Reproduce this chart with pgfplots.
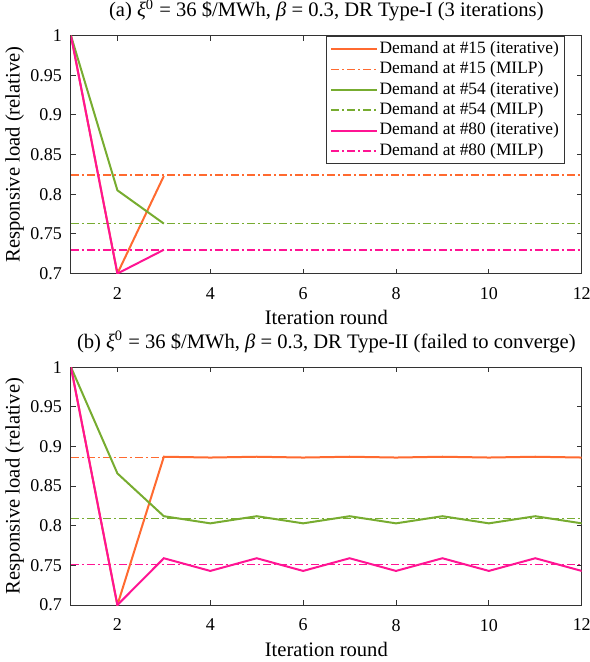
\documentclass[border=0pt]{standalone}
\usepackage{fontspec}
\setmainfont{Liberation Serif}
\usepackage{pgfplots}
\pgfplotsset{compat=1.18}

\definecolor{cOrange}{RGB}{255,106,48}
\definecolor{cGreen}{RGB}{119,172,48}
\definecolor{cPink}{RGB}{255,20,147}

\newcommand{\lab}{\rmfamily\fontsize{10.3}{12}\selectfont}
\newcommand{\tck}{\rmfamily\fontsize{9}{10}\selectfont}

\pgfplotsset{
  dr/.style={
    width=255.5pt, height=119pt, scale only axis,
    xmin=1, xmax=12, ymin=0.7, ymax=1,
    xtick={2,4,...,12},
    ytick={0.7,0.75,...,1.0001},
    yticklabel style={/pgf/number format/fixed,/pgf/number format/precision=2},
    /pgf/number format/assume math mode=true,
    tick align=inside,
    major tick length=2.5pt,
    axis line style={black!80, line width=0.5pt},
    tick style={black!80, line width=0.5pt},
    tick label style={font=\tck},
    xticklabel style={yshift=-3.5pt},
    yticklabel style={xshift=-1pt},
    title style={font=\lab, at={(axis description cs:0.5,1)}, anchor=base, yshift=3.5pt},
    xlabel={Iteration round},
    ylabel={Responsive load (relative)},
    xlabel style={font=\lab, at={(axis description cs:0.5,-0.185)}, anchor=center},
    ylabel style={font=\lab, at={(axis description cs:-0.11,0.5)}, anchor=center},
  },
  it/.style={line width=1pt, no marks},
  milp/.style={line width=0.75pt, no marks, dash pattern=on 4pt off 1.5pt on 1pt off 1.5pt},
}

\begin{document}
\begin{tikzpicture}
% page frame: 590 x 662 px at 2 px per pt, origin at the lower left of panel (b)
\useasboundingbox (-35.5pt,-28.5pt) rectangle (259.5pt,302.65pt);

\begin{axis}[dr, at={(0,165.8pt)}, anchor=south west,
  title={(a) {\itshape ξ}\textsuperscript{0} = 36 \$/MWh, {\itshape β} = 0.3, DR Type-I (3 iterations)},
  legend style={at={(0.967,1)}, anchor=north east, draw=black!80, line width=0.5pt,
    font=\rmfamily\fontsize{8.7}{10}\selectfont, inner xsep=2pt, inner ysep=1.5pt,
    row sep=0.3pt,
    nodes={inner sep=0.8pt, text height=6.3pt, text depth=2pt}},
  legend cell align=left,
  legend image code/.code={\draw[#1] (0pt,0pt) -- (23pt,0pt);},
]
\addplot[it, cOrange] coordinates {(1,1) (2,0.700) (3,0.823)};
\addlegendentry{Demand at \#15 (iterative)}
\addplot[milp, cOrange] coordinates {(1,0.824) (12,0.824)};
\addlegendentry{Demand at \#15 (MILP)}
\addplot[it, cGreen] coordinates {(1,1) (2,0.805) (3,0.763)};
\addlegendentry{Demand at \#54 (iterative)}
\addplot[milp, cGreen] coordinates {(1,0.763) (12,0.763)};
\addlegendentry{Demand at \#54 (MILP)}
\addplot[it, cPink] coordinates {(1,1) (2,0.700) (3,0.730)};
\addlegendentry{Demand at \#80 (iterative)}
\addplot[milp, cPink] coordinates {(1,0.730) (12,0.730)};
\addlegendentry{Demand at \#80 (MILP)}
\end{axis}

\begin{axis}[dr, at={(0,0)}, anchor=south west,
  title={(b) {\itshape ξ}\textsuperscript{0} = 36 \$/MWh, {\itshape β} = 0.3, DR Type-II (failed to converge)},
]
\addplot[milp, cOrange] coordinates {(1,0.886) (12,0.886)};
\addplot[milp, cGreen] coordinates {(1,0.809) (12,0.809)};
\addplot[milp, cPink] coordinates {(1,0.751) (12,0.751)};
\addplot[it, cOrange] coordinates {(1,1) (2,0.700) (3,0.887) (4,0.886) (5,0.887) (6,0.886) (7,0.887) (8,0.886) (9,0.887) (10,0.886) (11,0.887) (12,0.886)};
\addplot[it, cGreen] coordinates {(1,1) (2,0.866) (3,0.812) (4,0.803) (5,0.812) (6,0.803) (7,0.812) (8,0.803) (9,0.812) (10,0.803) (11,0.812) (12,0.803)};
\addplot[it, cPink] coordinates {(1,1) (2,0.700) (3,0.759) (4,0.743) (5,0.759) (6,0.743) (7,0.759) (8,0.743) (9,0.759) (10,0.743) (11,0.759) (12,0.743)};
\end{axis}
\end{tikzpicture}
\end{document}
